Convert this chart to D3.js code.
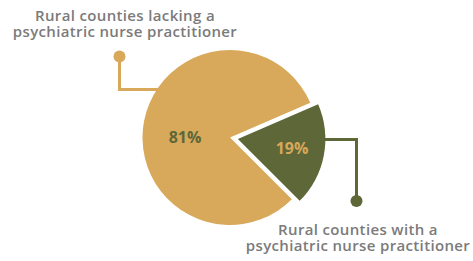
<!DOCTYPE html>
<html>
<head>
<meta charset="utf-8">
<script src="https://cdn.jsdelivr.net/npm/d3@7"></script>
<style>
  body { margin: 0; background: #fff; }
  svg { display: block; }
</style>
</head>
<body>
<div id="chart"></div>
<script>
// Condados rurales con / sin enfermero(a) psiquiátrico
const categories = ["Rural counties lacking a psychiatric nurse practitioner",
                    "Rural counties with a psychiatric nurse practitioner"];
const values = [81, 19];
const valueLabels = ["81%", "19%"];
const labelLines = [
    ["Rural counties lacking a", "psychiatric nurse practitioner"],
    ["Rural counties with a", "psychiatric nurse practitioner"]
];

const width = 473;
const height = 261;
const cx = 230, cy = 137.5, radius = 87.5;
const explode = 8;

const colors = ["#d8a85b", "#5e6737"];
const textColors = ["#5e6737", "#d8a85b"];

const svg = d3.select("#chart")
    .append("svg")
    .attr("width", width)
    .attr("height", height);

const g = svg.append("g")
    .attr("transform", `translate(${cx}, ${cy})`);

const pie = d3.pie()
    .sort(null)
    .value(d => d)
    .startAngle(135 * Math.PI / 180)
    .endAngle(495 * Math.PI / 180);

const arcs = pie(values);

const arc = d3.arc()
    .innerRadius(0)
    .outerRadius(radius);

// desplazamiento del trozo pequeño
const offset = d => {
    if (d.index === 0) return [0, 0];
    const a = (d.startAngle + d.endAngle) / 2;
    return [Math.sin(a) * explode, -Math.cos(a) * explode];
};

// líneas guía (debajo del pastel)
const leaders = [
    { path: [[119.5, 56.5], [119.5, 89.5], [160, 89.5]], dot: [119.5, 56.5] },
    { path: [[300, 139.5], [356.5, 139.5], [356.5, 201]], dot: [356.5, 201] }
];

leaders.forEach((l, i) => {
    svg.append("path")
        .attr("d", d3.line()(l.path))
        .attr("fill", "none")
        .attr("stroke", colors[i])
        .attr("stroke-width", 3);
    svg.append("circle")
        .attr("cx", l.dot[0])
        .attr("cy", l.dot[1])
        .attr("r", 6)
        .attr("fill", colors[i]);
});

g.selectAll("path.slice")
    .data(arcs)
    .enter()
    .append("path")
    .attr("class", "slice")
    .attr("d", arc)
    .attr("transform", d => `translate(${offset(d)})`)
    .attr("fill", (d, i) => colors[i])
    .append("title")
    .text((d, i) => `${categories[i]}: ${values[i]}%`);

// porcentajes
const labelPos = [[-45, 0], [62, 11]];
g.selectAll("text.pct")
    .data(arcs)
    .enter()
    .append("text")
    .attr("class", "pct")
    .attr("x", (d, i) => labelPos[i][0])
    .attr("y", (d, i) => labelPos[i][1])
    .attr("dy", "0.35em")
    .attr("text-anchor", "middle")
    .style("font-family", "'Open Sans', sans-serif")
    .style("font-weight", "700")
    .style("font-size", "16px")
    .attr("fill", (d, i) => textColors[i])
    .text((d, i) => valueLabels[i]);

// etiquetas
const labelAnchors = [[125, 20.5], [358, 235]];
labelLines.forEach((lines, i) => {
    const t = svg.append("text")
        .attr("text-anchor", "middle")
        .style("font-family", "'Open Sans', sans-serif")
        .style("font-weight", "600")
        .style("font-size", "15px")
        .style("letter-spacing", "0.35px")
        .attr("fill", "#7b7b7b");
    lines.forEach((line, j) => {
        t.append("tspan")
            .attr("x", labelAnchors[i][0])
            .attr("y", labelAnchors[i][1] + j * 16)
            .text(line);
    });
});
</script>
</body>
</html>
